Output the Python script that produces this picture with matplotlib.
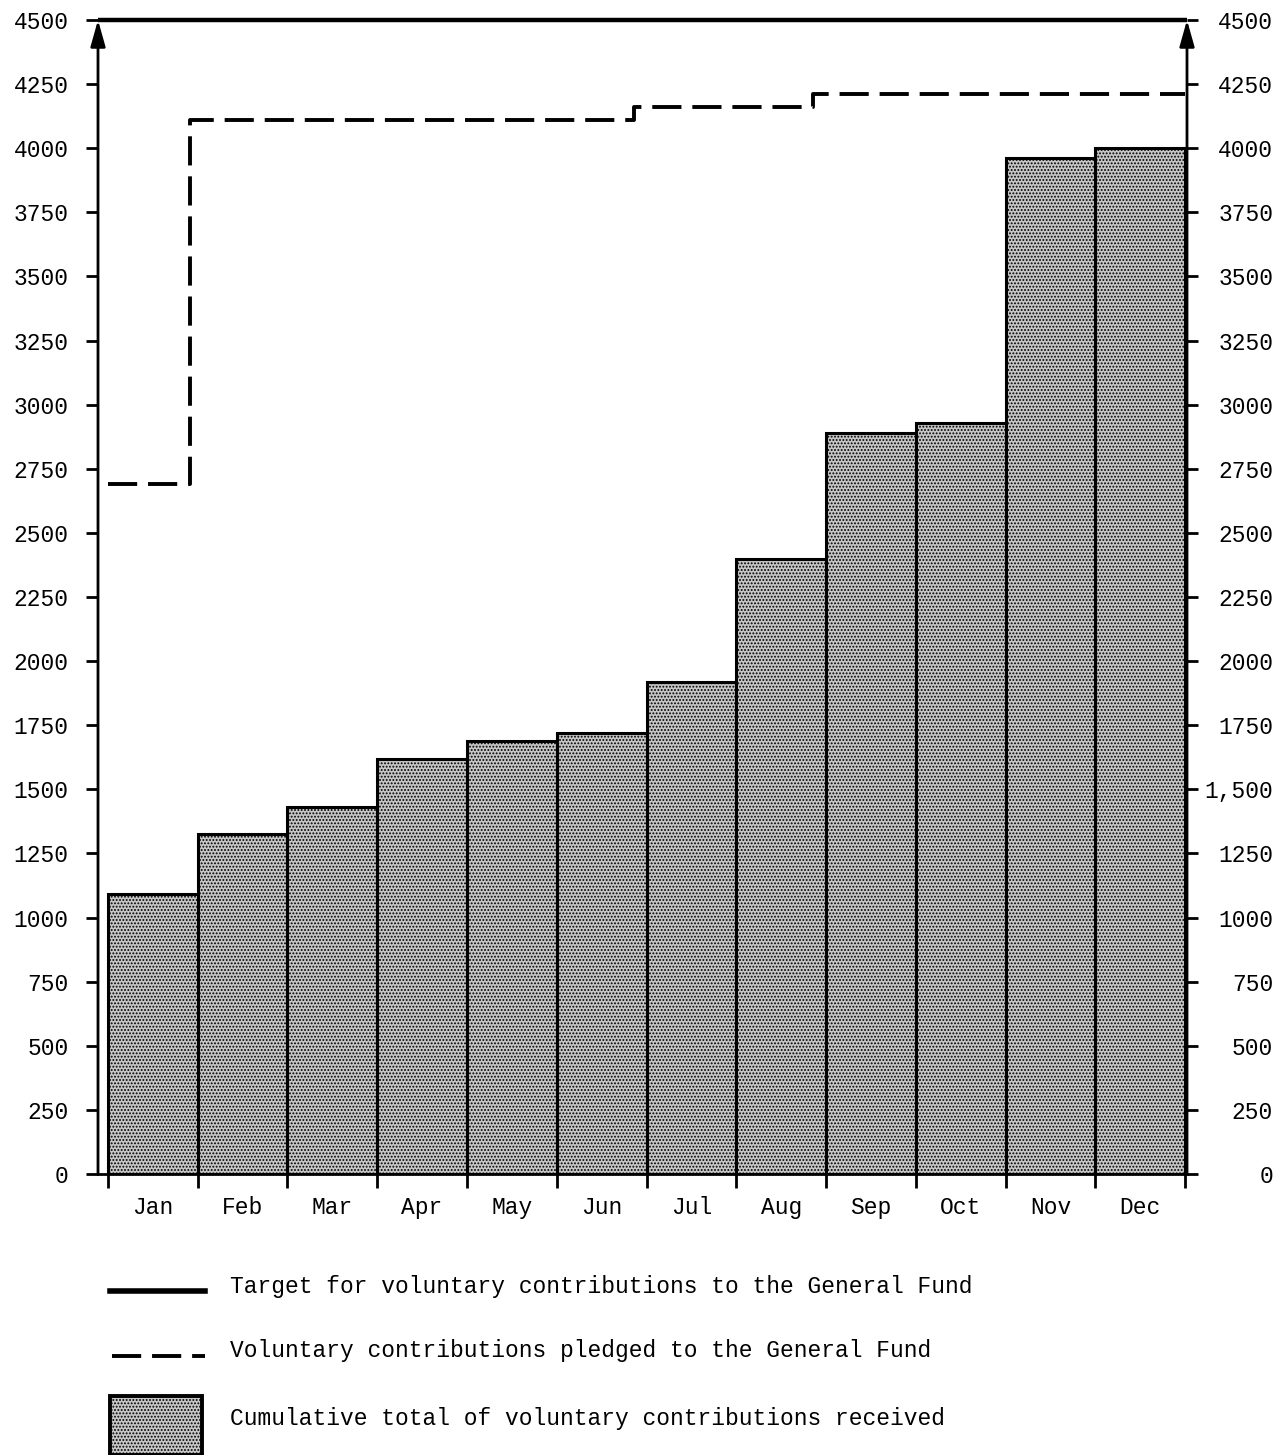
import numpy as np
import matplotlib.pyplot as plt

plt.rcParams["font.family"] = ["Liberation Mono", "DejaVu Serif"]
plt.rcParams["hatch.linewidth"] = 0.9

# ---- data ----
months = ["Jan", "Feb", "Mar", "Apr", "May", "Jun",
          "Jul", "Aug", "Sep", "Oct", "Nov", "Dec"]
received = [1090, 1325, 1430, 1620, 1690, 1720,
            1920, 2400, 2890, 2930, 3960, 4000]
target = 4500
# pledged: step changes (position in months, level)
pledge_x = [0.0, 0.91, 5.86, 7.85, 12.0]
pledge_y = [2690, 4110, 4160, 4210, 4210]

yticks = list(range(0, 4501, 250))
right_labels = [("1,500" if v == 1500 else str(v)) for v in yticks]

legend_labels = [
    "Target for voluntary contributions to the General Fund",
    "Voluntary contributions pledged to the General Fund",
    "Cumulative total of voluntary contributions received",
]

FS = 16.5
DASH = (7.5, 2.8)
W, H = 1284, 1455
fig = plt.figure(figsize=(W / 100, H / 100), dpi=100)
ax = fig.add_axes([98 / W, (H - 1174) / H, (1187 - 98) / W, (1174 - 20) / H])

x = np.arange(len(months))
ax.bar(x, received, width=1.0, align="edge", facecolor="#c6c6c6",
       edgecolor="black", linewidth=2.2, hatch=".....", zorder=2)

# pledged (dashed step line)
ax.step(pledge_x, pledge_y, where="post", color="black", lw=2.8,
        dashes=DASH, zorder=3)

xmin, xmax = -0.11, 12.02
ax.set_xlim(xmin, xmax)
ax.set_ylim(0, 4500)

# target line
ax.plot([xmin, xmax], [target, target], color="black", lw=3.2, zorder=4,
        clip_on=False, solid_capstyle="butt")

for s in ["top", "left", "right"]:
    ax.spines[s].set_visible(False)
ax.spines["bottom"].set_linewidth(2)

# axes with arrow heads
for xa in (xmin, xmax):
    ax.annotate("", xy=(xa, target), xytext=(xa, 0),
                arrowprops=dict(arrowstyle="-|>,head_length=1.6,head_width=0.45",
                                lw=2, color="black", shrinkA=0, shrinkB=0),
                annotation_clip=False, zorder=5)

ax.set_yticks(yticks)
ax.set_yticklabels([str(v) for v in yticks], fontsize=FS)
ax.tick_params(axis="y", length=9, width=2, pad=12)

ax2 = ax.twinx()
ax2.set_ylim(0, 4500)
ax2.set_yticks(yticks)
ax2.set_yticklabels(right_labels, fontsize=FS, ha="right")
ax2.tick_params(axis="y", length=8, width=2, pad=54)
for s in ax2.spines.values():
    s.set_visible(False)

ax.set_xticks(np.arange(13))
ax.set_xticklabels([])
ax.set_xticks(x + 0.5, minor=True)
ax.set_xticklabels(months, minor=True, fontsize=FS)
ax.tick_params(axis="x", which="major", length=10, width=2)
ax.tick_params(axis="x", which="minor", length=0, pad=16)

# legend drawn by hand
fig.lines.append(plt.Line2D([110 / W, 205 / W], [(H - 1291) / H] * 2,
                            transform=fig.transFigure, color="black", lw=4))
fig.lines.append(plt.Line2D([112 / W, 205 / W], [(H - 1356) / H] * 2,
                            transform=fig.transFigure, color="black", lw=2.8,
                            dashes=DASH))
fig.patches.append(plt.Rectangle((110 / W, 0), 92 / W, (H - 1396) / H,
                                 transform=fig.transFigure, facecolor="#c6c6c6",
                                 edgecolor="black", lw=2.8, hatch="....."))
for ty, lab in zip([1287, 1350, 1418], legend_labels):
    fig.text(230 / W, (H - ty) / H, lab, fontsize=FS, va="center", ha="left")

fig.savefig("out.png", dpi=100)
